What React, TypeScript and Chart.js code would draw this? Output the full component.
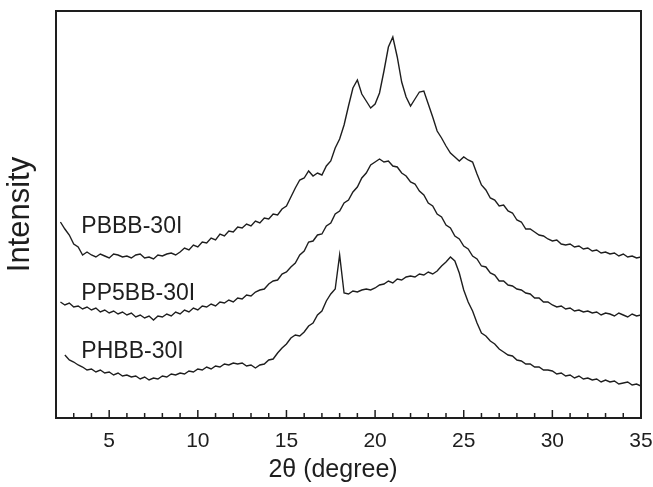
import React, { useEffect, useRef } from "react";
import { Chart, registerables } from "chart.js";

Chart.register(...registerables);

// 2θ grid (degrees)
const twoTheta = [
  2.25, 2.5, 2.75,
  3, 3.25, 3.5, 3.75,
  4, 4.25, 4.5, 4.75,
  5, 5.25, 5.5, 5.75,
  6, 6.25, 6.5, 6.75,
  7, 7.25, 7.5, 7.75,
  8, 8.25, 8.5, 8.75,
  9, 9.25, 9.5, 9.75,
  10, 10.25, 10.5, 10.75,
  11, 11.25, 11.5, 11.75,
  12, 12.25, 12.5, 12.75,
  13, 13.25, 13.5, 13.75,
  14, 14.25, 14.5, 14.75,
  15, 15.25, 15.5, 15.75,
  16, 16.25, 16.5, 16.75,
  17, 17.25, 17.5, 17.75,
  18, 18.25, 18.5, 18.75,
  19, 19.25, 19.5, 19.75,
  20, 20.25, 20.5, 20.75,
  21, 21.25, 21.5, 21.75,
  22, 22.25, 22.5, 22.75,
  23, 23.25, 23.5, 23.75,
  24, 24.25, 24.5, 24.75,
  25, 25.25, 25.5, 25.75,
  26, 26.25, 26.5, 26.75,
  27, 27.25, 27.5, 27.75,
  28, 28.25, 28.5, 28.75,
  29, 29.25, 29.5, 29.75,
  30, 30.25, 30.5, 30.75,
  31, 31.25, 31.5, 31.75,
  32, 32.25, 32.5, 32.75,
  33, 33.25, 33.5, 33.75,
  34, 34.25, 34.5, 34.75,
  35,
];

// Intensities (arbitrary units, offset-stacked as in the figure)
const pbbb = [
  196, 189, 183,
  174, 171, 163, 166,
  163, 161, 164, 162,
  160, 164, 163, 161,
  162, 160, 163, 164,
  160, 161, 159, 163,
  162, 164, 165, 163,
  166, 170, 168, 173,
  171, 176, 175, 180,
  178, 184, 182, 187,
  186, 191, 190, 194,
  192, 197, 195, 200,
  199, 204, 203, 209,
  212, 221, 230, 238,
  240, 247, 242, 245,
  243, 252, 257, 270,
  279, 293, 312, 330,
  338, 324, 317, 310,
  314, 325, 347, 371,
  381, 361, 336, 321,
  312, 319, 326, 327,
  314, 301, 287, 280,
  272, 265, 261, 257,
  261, 258, 256, 244,
  233, 228, 220, 218,
  212, 213, 207, 205,
  198, 196, 189, 189,
  186, 183, 182, 179,
  177, 178, 174, 173,
  174, 171, 172, 169,
  170, 167, 168, 165,
  166, 164, 165, 162,
  164, 161, 162, 160,
  161,
];

const pp5bb = [
  116, 113, 115,
  111, 112, 109, 111,
  108, 110, 106, 108,
  105, 107, 104, 106,
  103, 105, 101, 103,
  100, 102, 98, 102,
  101, 104, 102, 106,
  104, 108, 106, 110,
  108, 112, 111, 114,
  112, 116, 115, 118,
  116, 120, 119, 123,
  122, 126, 128, 129,
  134, 137, 138, 144,
  146, 151, 155, 163,
  167, 176, 177, 183,
  184, 192, 195, 204,
  207, 215, 218, 226,
  231, 240, 245, 253,
  256, 259, 256, 257,
  252, 251, 245, 242,
  236, 234, 227, 223,
  215, 212, 204, 201,
  193, 190, 182, 179,
  172, 169, 162, 159,
  152, 151, 145, 143,
  137, 137, 133, 132,
  129, 128, 125, 124,
  120, 120, 116, 116,
  113, 111, 112, 109,
  110, 107, 108, 106,
  107, 105, 106, 103,
  105, 104, 102, 105,
  103, 101, 104, 102,
  103,
];

const phbb = [
  null, 63, 58,
  56, 53, 51, 48,
  49, 46, 48, 45,
  46, 43, 45, 42,
  43, 41, 42, 39,
  41, 38, 40, 39,
  42, 41, 44, 43,
  45, 44, 47, 46,
  49, 48, 51, 49,
  52, 51, 54, 53,
  55, 54, 55, 52,
  53, 50, 53, 54,
  58, 59, 65, 70,
  74, 80, 83, 82,
  86, 92, 95, 103,
  107, 117, 124, 129,
  163, 125, 124, 127,
  126, 128, 129, 128,
  130, 133, 134, 137,
  135, 139, 138, 141,
  142, 141, 144, 143,
  146, 144, 147, 152,
  156, 161, 157, 145,
  128, 116, 107, 95,
  85, 82, 77, 74,
  69, 66, 63, 62,
  58, 57, 54, 54,
  51, 51, 48, 48,
  47, 44, 45, 42,
  43, 40, 42, 39,
  40, 38, 39, 36,
  38, 36, 37, 34,
  35, 36, 33, 34,
  32,
];

const seriesNames = ["PBBB-30I", "PP5BB-30I", "PHBB-30I"];
const seriesValues = [pbbb, pp5bb, phbb];
// label anchors in data units (2θ, intensity) — left/baseline of each curve label
const labelTwoTheta = [3.43, 3.43, 3.43];
const labelIntensity = [185, 118, 60];

const xTitle = "2θ (degree)";
const yTitle = "Intensity";
const xMin = 2;
const xMax = 35;
const yMin = 0;
const yMax = 407;

const FONT = '"Liberation Sans", Arial, Helvetica, sans-serif';
const INK = "#1e1e1e";

const decorPlugin = {
  id: "decor",
  afterDraw(chart: any) {
    const ctx = chart.ctx;
    const xs = chart.scales.x;
    const ys = chart.scales.y;
    const { left, right, top, bottom } = chart.chartArea;
    ctx.save();
    // frame
    ctx.strokeStyle = INK;
    ctx.lineWidth = 2;
    ctx.strokeRect(left, top, right - left, bottom - top);
    // inward ticks on bottom axis
    ctx.lineWidth = 1.5;
    for (const t of xs.ticks) {
      const px = xs.getPixelForValue(t.value);
      const major = Math.abs(t.value % 5) < 1e-9;
      ctx.beginPath();
      ctx.moveTo(px, bottom);
      ctx.lineTo(px, bottom - (major ? 8 : 5));
      ctx.stroke();
    }
    // curve labels
    ctx.fillStyle = INK;
    ctx.font = `23px ${FONT}`;
    ctx.textAlign = "left";
    ctx.textBaseline = "alphabetic";
    seriesNames.forEach((name, i) => {
      ctx.fillText(
        name,
        xs.getPixelForValue(labelTwoTheta[i]),
        ys.getPixelForValue(labelIntensity[i])
      );
    });
    // x-axis title
    ctx.font = `25px ${FONT}`;
    ctx.textAlign = "center";
    ctx.fillText(xTitle, 333, 477);
    ctx.restore();
  },
};

export default function App() {
  const ref = useRef<HTMLCanvasElement | null>(null);

  useEffect(() => {
    if (!ref.current) return;
    const chart = new Chart(ref.current, {
      type: "line",
      data: {
        datasets: seriesValues.map((vals, i) => ({
          label: seriesNames[i],
          data: twoTheta.map((x, k) => ({ x, y: vals[k] })),
          borderColor: INK,
          borderWidth: 1.4,
          pointRadius: 0,
          tension: 0,
          fill: false,
          spanGaps: false,
        })),
      },
      options: {
        responsive: false,
        animation: false,
        devicePixelRatio: 1,
        layout: { padding: { top: 11, right: 12, left: 0, bottom: 0 } },
        plugins: {
          legend: { display: false },
          tooltip: { enabled: false },
        },
        scales: {
          x: {
            type: "linear",
            min: xMin,
            max: xMax,
            grid: { display: false, drawTicks: false },
            border: { display: false },
            ticks: {
              stepSize: 1,
              autoSkip: false,
              maxRotation: 0,
              padding: 11,
              color: INK,
              font: { family: FONT, size: 21 },
              callback: (v: any) => (Number(v) % 5 === 0 ? String(v) : ""),
            },
            afterFit: (s: any) => {
              s.height = 69;
              s.paddingLeft = 0;
              s.paddingRight = 0;
            },
          },
          y: {
            type: "linear",
            min: yMin,
            max: yMax,
            grid: { display: false, drawTicks: false },
            border: { display: false },
            ticks: { display: false },
            title: {
              display: true,
              text: yTitle,
              color: INK,
              font: { family: FONT, size: 31 },
              padding: { top: 2, bottom: 0 },
            },
            afterFit: (s: any) => {
              s.width = 56;
              s.paddingTop = 0;
              s.paddingBottom = 0;
            },
          },
        },
      },
      plugins: [decorPlugin],
    });
    return () => chart.destroy();
  }, []);

  return (
    <div style={{ position: "absolute", left: 0, top: 0, width: 653, height: 487, background: "#fff" }}>
      <canvas ref={ref} width={653} height={487} style={{ display: "block" }} />
    </div>
  );
}
